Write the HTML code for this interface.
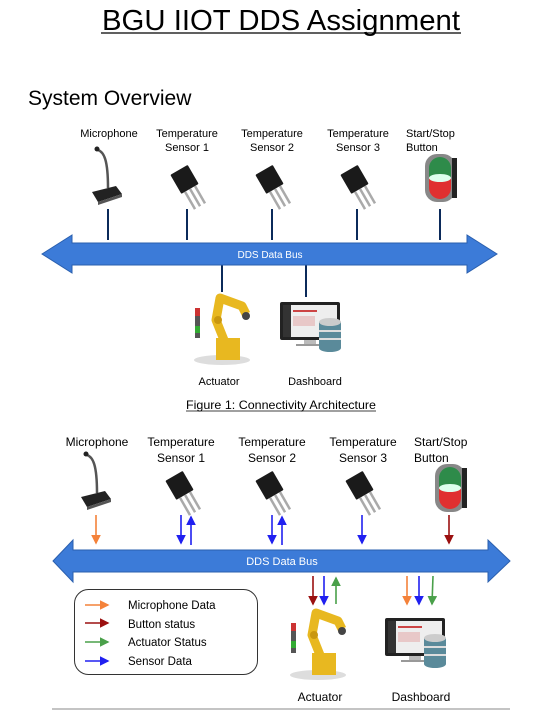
<!DOCTYPE html>
<html><head><meta charset="utf-8"><style>
body{margin:0;background:#fff;width:537px;height:710px;overflow:hidden}
svg{display:block}
text{font-family:"Liberation Sans",Arial,sans-serif;fill:#000}
</style></head><body>
<svg width="537" height="710" viewBox="0 0 537 710" xmlns="http://www.w3.org/2000/svg">
<defs>
<g id="mic">
 <path d="M-8,-40 C-2,-38 2,-30 2,-2" stroke="#555" stroke-width="2.5" fill="none"/>
 <circle cx="-9" cy="-41" r="2.5" fill="#222"/>
 <polygon points="-14,2 10,-4 16,4 -8,12" fill="#222"/>
 <polygon points="-8,12 16,4 16,7 -8,15" fill="#555"/>
</g>
<g id="tr">
 <g transform="rotate(-30)">
  <rect x="-10" y="-14" width="20" height="22" fill="#1a1a1a" rx="1"/>
  <rect x="-7" y="8" width="2.5" height="20" fill="#aaa"/>
  <rect x="-1.2" y="8" width="2.5" height="20" fill="#aaa"/>
  <rect x="4.5" y="8" width="2.5" height="20" fill="#aaa"/>
 </g>
</g>
<g id="btn">
 <rect x="-15" y="-24" width="30" height="48" rx="12" fill="#888"/>
 <rect x="12" y="-20" width="5" height="40" fill="#222"/>
 <path d="M-11,0 V-10 A11,11 0 0 1 11,-10 V0 Z" fill="#2e8b4a"/>
 <path d="M-11,0 V10 A11,11 0 0 0 11,10 V0 Z" fill="#e03030"/>
 <ellipse cx="0" cy="0" rx="11" ry="4" fill="#dfe"/>
</g>
<g id="robot">
 <rect x="-27" y="-20" width="5" height="30" fill="#555"/>
 <rect x="-27" y="-20" width="5" height="8" fill="#c33"/>
 <rect x="-27" y="-2" width="5" height="7" fill="#3a3"/>
 <ellipse cx="0" cy="32" rx="28" ry="5" fill="#ddd"/>
 <rect x="-6" y="10" width="24" height="22" fill="#e8b820"/>
 <path d="M2,12 L-6,-8 L-2,-30 L20,-22 L24,-14" stroke="#e8b820" stroke-width="9" fill="none" stroke-linejoin="round"/>
 <circle cx="24" cy="-12" r="4" fill="#444"/>
 <circle cx="-4" cy="-8" r="4" fill="#c9970f"/>
</g>
<g id="dash">
 <rect x="-30" y="-22" width="60" height="38" rx="2" fill="#222"/>
 <rect x="-27" y="-19" width="54" height="32" fill="#eee"/>
 <rect x="-27" y="-19" width="8" height="32" fill="#333"/>
 <rect x="-17" y="-14" width="24" height="2" fill="#c44"/>
 <rect x="-17" y="-8" width="22" height="10" fill="#e8c8c8"/>
 <rect x="-6" y="16" width="12" height="4" fill="#bbb"/>
 <rect x="-14" y="20" width="28" height="2" fill="#999"/>
 <g transform="translate(20,8)">
  <rect x="-11" y="-10" width="22" height="26" fill="#5a8a9a"/>
  <ellipse cx="0" cy="-10" rx="11" ry="4" fill="#ccc"/>
  <rect x="-11" y="-2" width="22" height="2" fill="#ddd"/>
  <rect x="-11" y="6" width="22" height="2" fill="#ddd"/>
  <ellipse cx="0" cy="16" rx="11" ry="4" fill="#5a8a9a"/>
 </g>
</g>
<marker id="mo" markerWidth="6" markerHeight="6" refX="5" refY="3" orient="auto"><path d="M0,0 L6,3 L0,6 Z" fill="#f4823a"/></marker>
<marker id="mr" markerWidth="6" markerHeight="6" refX="5" refY="3" orient="auto"><path d="M0,0 L6,3 L0,6 Z" fill="#9b1010"/></marker>
<marker id="mg" markerWidth="6" markerHeight="6" refX="5" refY="3" orient="auto"><path d="M0,0 L6,3 L0,6 Z" fill="#4aa04a"/></marker>
<marker id="mb" markerWidth="6" markerHeight="6" refX="5" refY="3" orient="auto"><path d="M0,0 L6,3 L0,6 Z" fill="#2020f0"/></marker>
</defs>

<text x="281" y="30" font-size="29" text-anchor="middle" textLength="358" lengthAdjust="spacingAndGlyphs">BGU IIOT DDS Assignment</text>
<line x1="101" y1="33" x2="461" y2="33" stroke="#000" stroke-width="1.3"/>
<text x="28" y="105" font-size="21">System Overview</text>

<!-- top labels -->
<g font-size="11" text-anchor="middle">
<text x="109" y="137">Microphone</text>
<text x="187" y="137">Temperature</text><text x="187" y="151">Sensor 1</text>
<text x="272" y="137">Temperature</text><text x="272" y="151">Sensor 2</text>
<text x="358" y="137">Temperature</text><text x="358" y="151">Sensor 3</text>
<text x="406" y="137" text-anchor="start">Start/Stop</text><text x="406" y="151" text-anchor="start">Button</text>
</g>
<use href="#mic" x="106" y="190"/>
<use href="#tr" x="186" y="182"/>
<use href="#tr" x="271" y="182"/>
<use href="#tr" x="356" y="182"/>
<use href="#btn" x="440" y="178"/>
<g stroke="#0b2a5a" stroke-width="2">
<line x1="108" y1="209" x2="108" y2="240"/><line x1="187" y1="209" x2="187" y2="240"/>
<line x1="272" y1="209" x2="272" y2="240"/><line x1="357" y1="209" x2="357" y2="240"/>
<line x1="440" y1="209" x2="440" y2="240"/>
<line x1="222" y1="265" x2="222" y2="292"/><line x1="306" y1="265" x2="306" y2="297"/>
</g>
<polygon points="42,254 72,235 72,243 467,243 467,235 497,254 467,273 467,265 72,265 72,273" fill="#3c7bd8" stroke="#2a5fae" stroke-width="1"/>
<text x="270" y="258" font-size="10" style="fill:#fff" text-anchor="middle">DDS Data Bus</text>

<use href="#robot" x="222" y="328"/>
<use href="#dash" x="310" y="324"/>
<g font-size="11" text-anchor="middle">
<text x="219" y="385">Actuator</text><text x="315" y="385">Dashboard</text>
</g>
<text x="281" y="409" font-size="12" text-anchor="middle" textLength="190" lengthAdjust="spacingAndGlyphs">Figure 1: Connectivity Architecture</text>
<line x1="186" y1="411" x2="376" y2="411" stroke="#000" stroke-width="0.8"/>

<!-- bottom -->
<g font-size="12" text-anchor="middle">
<text x="97" y="446">Microphone</text>
<text x="181" y="446">Temperature</text><text x="181" y="462">Sensor 1</text>
<text x="272" y="446">Temperature</text><text x="272" y="462">Sensor 2</text>
<text x="363" y="446">Temperature</text><text x="363" y="462">Sensor 3</text>
<text x="414" y="446" text-anchor="start">Start/Stop</text><text x="414" y="462" text-anchor="start">Button</text>
</g>
<use href="#mic" x="95" y="495"/>
<use href="#tr" x="181" y="488"/>
<use href="#tr" x="271" y="488"/>
<use href="#tr" x="361" y="488"/>
<use href="#btn" x="450" y="488"/>

<g stroke-width="1.6" fill="none">
<line x1="96" y1="515" x2="96" y2="543" stroke="#f4823a" marker-end="url(#mo)"/>
<line x1="181" y1="515" x2="181" y2="543" stroke="#2020f0" marker-end="url(#mb)"/>
<line x1="191" y1="545" x2="191" y2="517" stroke="#2020f0" marker-end="url(#mb)"/>
<line x1="272" y1="515" x2="272" y2="543" stroke="#2020f0" marker-end="url(#mb)"/>
<line x1="282" y1="545" x2="282" y2="517" stroke="#2020f0" marker-end="url(#mb)"/>
<line x1="362" y1="515" x2="362" y2="543" stroke="#2020f0" marker-end="url(#mb)"/>
<line x1="449" y1="515" x2="449" y2="543" stroke="#9b1010" marker-end="url(#mr)"/>
<line x1="313" y1="576" x2="313" y2="604" stroke="#9b1010" marker-end="url(#mr)"/>
<line x1="324" y1="576" x2="324" y2="604" stroke="#2020f0" marker-end="url(#mb)"/>
<line x1="336" y1="604" x2="336" y2="578" stroke="#4aa04a" marker-end="url(#mg)"/>
<line x1="407" y1="576" x2="407" y2="604" stroke="#f4823a" marker-end="url(#mo)"/>
<line x1="419" y1="576" x2="419" y2="604" stroke="#2020f0" marker-end="url(#mb)"/>
<line x1="433" y1="576" x2="432" y2="604" stroke="#4aa04a" marker-end="url(#mg)"/>
</g>
<polygon points="53,561 73,540 73,550 488,550 488,540 510,561 488,582 488,572 73,572 73,582" fill="#3c7bd8" stroke="#2a5fae" stroke-width="1"/>
<text x="282" y="565" font-size="11" style="fill:#fff" text-anchor="middle">DDS Data Bus</text>

<rect x="74.5" y="589.5" width="183" height="85" rx="14" fill="#fff" stroke="#333" stroke-width="1"/>
<g stroke-width="1.6">
<line x1="85" y1="605" x2="108" y2="605" stroke="#f4823a" marker-end="url(#mo)"/>
<line x1="85" y1="623" x2="108" y2="623" stroke="#9b1010" marker-end="url(#mr)"/>
<line x1="85" y1="642" x2="108" y2="642" stroke="#4aa04a" marker-end="url(#mg)"/>
<line x1="85" y1="661" x2="108" y2="661" stroke="#2020f0" marker-end="url(#mb)"/>
</g>
<g font-size="11.5">
<text x="128" y="609">Microphone Data</text>
<text x="128" y="628">Button status</text>
<text x="128" y="646">Actuator Status</text>
<text x="128" y="665">Sensor Data</text>
</g>
<use href="#robot" x="318" y="643"/>
<use href="#dash" x="415" y="640"/>
<g font-size="12" text-anchor="middle">
<text x="320" y="701">Actuator</text><text x="421" y="701">Dashboard</text>
</g>
<line x1="52" y1="709" x2="510" y2="709" stroke="#888" stroke-width="1"/>
</svg>
</body></html>
